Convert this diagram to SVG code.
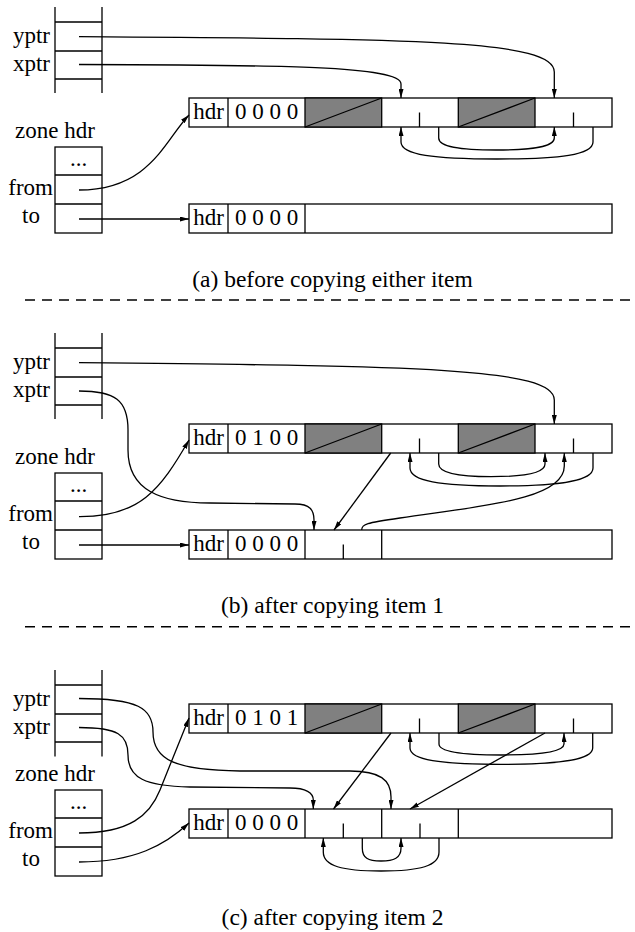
<svg xmlns="http://www.w3.org/2000/svg" width="635" height="932" viewBox="0 0 635 932">
<style>
.ln{stroke:#000;stroke-width:1.3;fill:none}
.cell{stroke:#000;stroke-width:1.3;fill:#fff}
.gray{stroke:#000;stroke-width:1.3;fill:#808080}
.t{font-family:"Liberation Serif","Times New Roman",serif;font-size:23px;fill:#000}
.m{text-anchor:middle}
.e{text-anchor:end}
.cap{font-family:"Liberation Serif","Times New Roman",serif;font-size:23.5px;fill:#000;text-anchor:middle}
.arr{stroke:#000;stroke-width:1.3;fill:none;marker-end:url(#ah)}
.dash{stroke:#000;stroke-width:1.5;stroke-dasharray:10 7;fill:none}
</style>
<defs>
<marker id="ah" viewBox="0 0 9 5" refX="9" refY="2.5" markerWidth="9" markerHeight="5" markerUnits="userSpaceOnUse" orient="auto">
<path d="M0,0 L9,2.5 L0,5 z" fill="#000"/>
</marker>
</defs>
<rect width="635" height="932" fill="#fff"/>

<!-- ===== Panel (a) ===== -->
<g id="stack-a">
<path class="ln" d="M55,7 V93 M102,7 V93 M55,22 H102 M55,51 H102 M55,79 H102"/>
<text class="t e" x="50" y="43">yptr</text>
<text class="t e" x="50" y="71">xptr</text>
</g>
<g id="zone-a">
<text class="t m" x="55" y="137.5">zone hdr</text>
<rect class="cell" x="55" y="147" width="47" height="86"/>
<path class="ln" d="M55,175 H102 M55,204 H102"/>
<text class="t m" x="78.5" y="166">...</text>
<text class="t e" x="53" y="195">from</text>
<text class="t m" x="31" y="223">to</text>
</g>
<g id="from-a">
<rect class="cell" x="189" y="98" width="423" height="29"/>
<rect class="gray" x="305" y="98" width="76.7" height="29"/>
<rect class="gray" x="458.3" y="98" width="76.7" height="29"/>
<path class="ln" d="M228,98 V127 M305,127 L381.7,98 M458.3,127 L535,98 M419.5,112.5 V127 M573.5,112.5 V127"/>
<text class="t m" x="208.5" y="119">hdr</text>
<text class="t m" x="266.5" y="119">0 0 0 0</text>
</g>
<g id="to-a">
<rect class="cell" x="189" y="204" width="423" height="29"/>
<path class="ln" d="M228,204 V233 M305,204 V233"/>
<text class="t m" x="208.5" y="224.5">hdr</text>
<text class="t m" x="266.5" y="224.5">0 0 0 0</text>
</g>
<g id="connectors-a">
<path class="arr" d="M79,36.7 C420,39 554.3,40 554.3,72 V98"/>
<path class="arr" d="M79,64.5 C280,65 401,66 401,84 V98"/>
<path class="arr" d="M79,190 C150,190 165,140 189,115"/>
<path class="arr" d="M79,219 H189"/>
<path class="arr" d="M438.7,127 V138 C438.7,147 460,150 496,150 C533,150 554.3,147 554.3,138 V127"/>
<path class="arr" d="M593,127 V142 C593,155 560,159 497,159 C434,159 401,155 401,142 V127"/>
</g>
<text id="caption-a" class="cap" x="332.5" y="287">(a) before copying either item</text>
<path id="sep-1" class="dash" d="M25,300 H635"/>

<!-- ===== Panel (b) ===== -->
<g id="stack-b">
<path class="ln" d="M55,333 V419 M102,333 V419 M55,348 H102 M55,377 H102 M55,405 H102"/>
<text class="t e" x="50" y="369">yptr</text>
<text class="t e" x="50" y="397">xptr</text>
</g>
<g id="zone-b">
<text class="t m" x="55" y="463.5">zone hdr</text>
<rect class="cell" x="55" y="473" width="47" height="86"/>
<path class="ln" d="M55,501 H102 M55,530 H102"/>
<text class="t m" x="78.5" y="492">...</text>
<text class="t e" x="53" y="521">from</text>
<text class="t m" x="31" y="549">to</text>
</g>
<g id="from-b">
<rect class="cell" x="189" y="424" width="423" height="29"/>
<rect class="gray" x="305" y="424" width="76.7" height="29"/>
<rect class="gray" x="458.3" y="424" width="76.7" height="29"/>
<path class="ln" d="M228,424 V453 M305,453 L381.7,424 M458.3,453 L535,424 M419.5,438.5 V453 M573.5,438.5 V453"/>
<text class="t m" x="208.5" y="445">hdr</text>
<text class="t m" x="266.5" y="445">0 1 0 0</text>
</g>
<g id="to-b">
<rect class="cell" x="189" y="530" width="423" height="29"/>
<path class="ln" d="M228,530 V559 M305,530 V559 M381.7,530 V559 M343.3,544.5 V559"/>
<text class="t m" x="208.5" y="550.5">hdr</text>
<text class="t m" x="266.5" y="550.5">0 0 0 0</text>
</g>
<g id="connectors-b">
<path class="arr" d="M79,362.7 C420,366 554.3,368 554.3,400 V424"/>
<path class="arr" d="M79,391 C115,391 128,400 128,430 V450 C128,490 160,503 210,503 L295,504 C310,504 314,510 314,520 V530"/>
<path class="arr" d="M79,516.7 C140,517 160,490 189,440"/>
<path class="arr" d="M79,545 H189"/>
<path class="arr" d="M390.7,453 L334,530"/>
<path class="arr" d="M361.7,530 C361.7,524 366,523 400,518 C480,506 564.3,500 564.3,466 V453"/>
<path class="arr" d="M438.7,453 V464 C438.7,473 460,476.7 491,476.7 C525,476.7 545,473 545,464 V453"/>
<path class="arr" d="M593,453 V468 C593,481 560,486 500,486 C440,486 410,481 410,468 V453"/>
</g>
<text id="caption-b" class="cap" x="332.5" y="613">(b) after copying item 1</text>
<path id="sep-2" class="dash" d="M25,626.7 H635"/>

<!-- ===== Panel (c) ===== -->
<g id="stack-c">
<path class="ln" d="M55,670 V756.5 M102,670 V756.5 M55,685 H102 M55,714 H102 M55,742 H102"/>
<text class="t e" x="50" y="705.5">yptr</text>
<text class="t e" x="50" y="733.5">xptr</text>
</g>
<g id="zone-c">
<text class="t m" x="55" y="780.5">zone hdr</text>
<rect class="cell" x="55" y="790" width="47" height="86"/>
<path class="ln" d="M55,818 H102 M55,847 H102"/>
<text class="t m" x="78.5" y="809">...</text>
<text class="t e" x="53" y="838">from</text>
<text class="t m" x="31" y="866">to</text>
</g>
<g id="from-c">
<rect class="cell" x="189" y="704" width="423" height="29"/>
<rect class="gray" x="305" y="704" width="76.7" height="29"/>
<rect class="gray" x="458.3" y="704" width="76.7" height="29"/>
<path class="ln" d="M228,704 V733 M305,733 L381.7,704 M458.3,733 L535,704 M419.5,718.5 V733 M573.5,718.5 V733"/>
<text class="t m" x="208.5" y="725">hdr</text>
<text class="t m" x="266.5" y="725">0 1 0 1</text>
</g>
<g id="to-c">
<rect class="cell" x="189" y="809" width="423" height="29"/>
<path class="ln" d="M228,809 V838 M305,809 V838 M381.7,809 V838 M458.3,809 V838 M343.3,823.5 V838 M420,823.5 V838"/>
<text class="t m" x="208.5" y="829.5">hdr</text>
<text class="t m" x="266.5" y="829.5">0 0 0 0</text>
</g>
<g id="connectors-c">
<path class="arr" d="M79,698.5 C138,698.5 153,708 153,732 C153,760 175,770 240,771 L350,771 C380,771 391,780 391,797 V809"/>
<path class="arr" d="M79,727.5 C118,727.5 128,735 128,755 C128,778 145,786 190,787 L290,788 C306,788 313.3,793 313.3,800 V809"/>
<path class="arr" d="M79,833 C130,833 150,815 160,790 C170,765 178,745 189,718"/>
<path class="arr" d="M79,862 C135,862 165,845 189,823"/>
<path class="arr" d="M391,733 L333.5,809"/>
<path class="arr" d="M545,733 L410,809"/>
<path class="arr" d="M439,733 V744 C439,752 465,755 501,755 C540,755 564,752 564,744 V733"/>
<path class="arr" d="M592.7,733 V748 C592.7,760 560,764.3 501,764.3 C440,764.3 410,760 410,748 V733"/>
<path class="arr" d="M362.3,838 V848 C362.3,858 368,861 381,861 C394,861 401,858 401,848 V838"/>
<path class="arr" d="M439,838 V852 C439,866 420,871 381,871 C342,871 323.3,866 323.3,852 V838"/>
</g>
<text id="caption-c" class="cap" x="332.5" y="925">(c) after copying item 2</text>
</svg>
